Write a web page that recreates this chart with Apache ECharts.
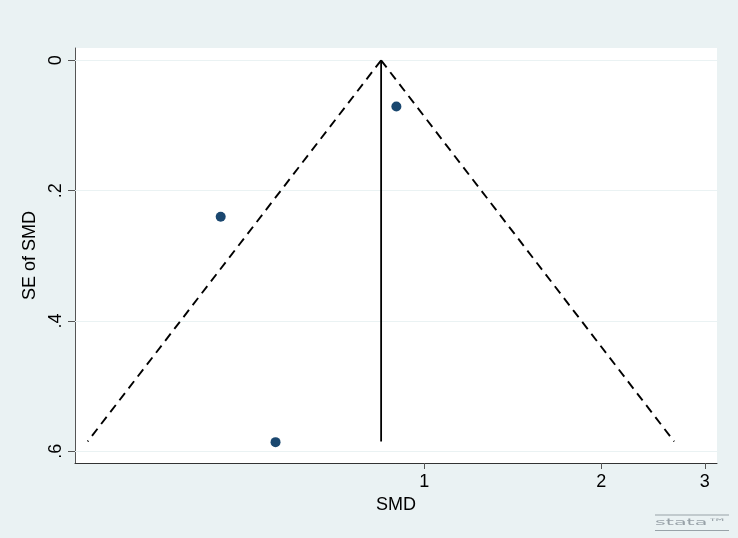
<!DOCTYPE html>
<html>
<head>
<meta charset="utf-8">
<script src="https://cdn.jsdelivr.net/npm/echarts@6/dist/echarts.min.js"></script>
<style>
html,body{margin:0;padding:0;background:#eaf2f3;}
#chart{width:738px;height:538px;}
</style>
</head>
<body>
<div id="chart"></div>
<script>
// Study-level estimates (SMD on log scale, SE of SMD)
const studySMD = [0.451, 0.559, 0.897];
const studySE = [0.240, 0.586, 0.071];
// Pooled estimate and pseudo 95% confidence limits
const pooledSMD = 0.845;
const funnelSE = [0, 0.585];
const funnelLower = [0.845, 0.268];
const funnelUpper = [0.845, 2.66];
// Tick values
const xTicks = [1, 2, 3];
const yTicks = [0, 0.2, 0.4, 0.6];

const FONT = 'Liberation Sans, Arial, Helvetica, sans-serif';
const chart = echarts.init(document.getElementById('chart'), null, {renderer: 'canvas'});

const yFmt = v => {
  const r = Math.round(v * 10) / 10;
  return r === 0 ? '0' : String(r).replace(/^0/, '');
};

chart.setOption({
  animation: false,
  backgroundColor: '#eaf2f3',
  textStyle: {fontFamily: FONT},
  grid: {
    left: 75, right: 21, top: 48, bottom: 75,
    show: true, backgroundColor: '#ffffff', borderWidth: 0
  },
  xAxis: {
    type: 'log',
    logBase: 10,
    min: 0.255,
    max: 3.146,
    position: 'bottom',
    name: 'SMD',
    nameLocation: 'middle',
    nameGap: 30,
    nameTextStyle: {fontSize: 18, color: '#000', fontFamily: FONT},
    axisLine: {show: true, onZero: false, lineStyle: {color: '#333', width: 1}},
    axisTick: {show: true, length: 6, customValues: xTicks, lineStyle: {color: '#555', width: 1}},
    axisLabel: {customValues: xTicks, fontSize: 18, color: '#000', margin: 10, fontFamily: FONT,
      formatter: v => String(Math.round(v))},
    splitLine: {show: false},
    minorTick: {show: false},
    minorSplitLine: {show: false}
  },
  yAxis: {
    type: 'value',
    inverse: true,
    min: -0.0189,
    max: 0.618,
    name: 'SE of SMD',
    nameLocation: 'middle',
    nameGap: 34,
    nameRotate: 90,
    nameTextStyle: {fontSize: 18, color: '#000', fontFamily: FONT},
    axisLine: {show: true, onZero: false, lineStyle: {color: '#555', width: 1}},
    axisTick: {show: true, length: 7, customValues: yTicks, lineStyle: {color: '#555', width: 1}},
    axisLabel: {customValues: yTicks, rotate: 90, fontSize: 18, color: '#000', margin: 10, fontFamily: FONT,
      formatter: yFmt},
    splitLine: {show: false}
  },
  series: [
    {
      type: 'line',
      data: [],
      silent: true,
      z: 1,
      markLine: {
        silent: true,
        z: 1,
        symbol: ['none', 'none'],
        label: {show: false},
        lineStyle: {color: '#eaf2f3', width: 1.2, type: 'solid'},
        data: yTicks.map(v => ({yAxis: v}))
      }
    },
    {
      type: 'line',
      name: 'pooled',
      data: funnelSE.map(s => [pooledSMD, s]),
      symbol: 'none',
      lineStyle: {color: '#000', width: 1.8, type: 'solid'},
      z: 3
    },
    {
      type: 'line',
      name: 'lower',
      data: funnelSE.map((s, i) => [funnelLower[i], s]),
      symbol: 'none',
      lineStyle: {color: '#000', width: 1.9, type: [9, 6]},
      z: 3
    },
    {
      type: 'line',
      name: 'upper',
      data: funnelSE.map((s, i) => [funnelUpper[i], s]),
      symbol: 'none',
      lineStyle: {color: '#000', width: 1.9, type: [9, 6]},
      z: 3
    },
    {
      type: 'scatter',
      name: 'studies',
      data: studySMD.map((x, i) => [x, studySE[i]]),
      symbol: 'circle',
      symbolSize: 10,
      itemStyle: {color: '#1a476f', opacity: 1},
      z: 4
    }
  ],
  graphic: [
    {type: 'line', shape: {x1: 655, y1: 515, x2: 729, y2: 515}, style: {stroke: '#98a2a8', lineWidth: 1.2}},
    {type: 'line', shape: {x1: 655, y1: 530.5, x2: 729, y2: 530.5}, style: {stroke: '#98a2a8', lineWidth: 1.2}},
    {type: 'text', x: 655, y: 518, scaleX: 2.3, scaleY: 1,
      style: {text: 'stata™', fill: '#98a2a8', font: '9px "DejaVu Sans", sans-serif', textVerticalAlign: 'top'}}
  ]
});
</script>
</body>
</html>
